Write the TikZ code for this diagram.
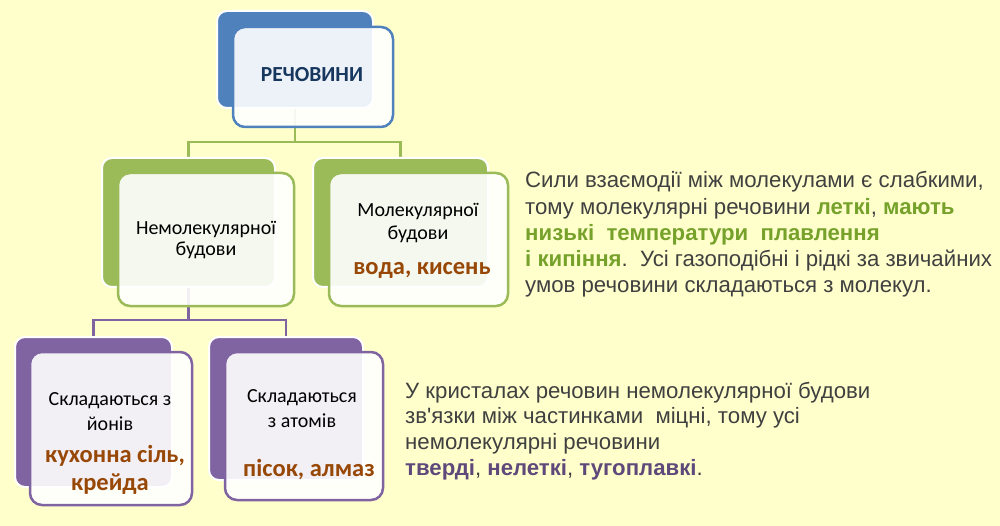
\documentclass[tikz,border=0pt]{standalone}
\usepackage{fontspec}
\setmainfont{Carlito}
\newfontfamily\arialf{Liberation Sans}
\definecolor{bgyel}{HTML}{FFFFCC}
\definecolor{cblue}{HTML}{4F81BD}
\definecolor{cgreen}{HTML}{9BBB59}
\definecolor{cpurple}{HTML}{8064A2}
\definecolor{ttitle}{HTML}{17375E}
\definecolor{tbrown}{HTML}{984806}
\definecolor{tgrey}{HTML}{404040}
\definecolor{tgreen}{HTML}{76A12B}
\definecolor{tpurple}{HTML}{5F497A}
\pgfdeclarelayer{bg}
\pgfdeclarelayer{conn}
\pgfsetlayers{bg,conn,main}
\tikzset{
  backbox/.style={draw=white,line width=2pt,rounded corners=10pt,inner sep=0pt,outer sep=0pt},
  frontbox/.style={draw=#1,line width=2.5pt,rounded corners=12pt,fill=white,fill opacity=0.9,inner sep=0pt,outer sep=0pt},
  conn/.style={draw=#1,line width=2.5pt},
  boxtxt/.style={anchor=base,font=\fontsize{20}{24}\selectfont,text=black,inner sep=0pt},
  boxbold/.style={anchor=base,font=\fontsize{24.5}{28}\selectfont\bfseries,text=tbrown,inner sep=0pt},
  sidetxt/.style={anchor=base west,font=\arialf\fontsize{22.2}{26}\selectfont,text=tgrey,inner sep=0pt},
}
\begin{document}
\begin{tikzpicture}[x=1pt,y=-1pt]
\begin{pgfonlayer}{bg}
\fill[bgyel] (0,0) rectangle (1000,526);
\end{pgfonlayer}
\useasboundingbox (0,0) rectangle (1000,526);
% boxes
\node[backbox,fill=cblue,minimum width=156pt,minimum height=97pt] (topback) at (295,59.5) {};
\node[frontbox=cblue,minimum width=160pt,minimum height=100pt] (topfront) at (313,77) {};
\node[backbox,fill=cgreen,minimum width=173pt,minimum height=129pt] (g1back) at (188.5,222.5) {};
\node[frontbox=cgreen,minimum width=176pt,minimum height=133pt] (g1front) at (206,239.5) {};
\node[backbox,fill=cgreen,minimum width=175pt,minimum height=129pt] (g2back) at (400.5,222.5) {};
\node[frontbox=cgreen,minimum width=179pt,minimum height=133pt] (g2front) at (418.5,239.5) {};
\node[backbox,fill=cpurple,minimum width=157pt,minimum height=150pt] (p1back) at (93.5,412) {};
\node[frontbox=cpurple,minimum width=162pt,minimum height=153pt] (p1front) at (111,428.5) {};
\node[backbox,fill=cpurple,minimum width=154pt,minimum height=143pt] (p2back) at (286,408.5) {};
\node[frontbox=cpurple,minimum width=158pt,minimum height=148pt] (p2front) at (304,426) {};
% connectors
\coordinate (busg) at (0,142);
\coordinate (busp) at (0,320);
\begin{pgfonlayer}{conn}
\draw[conn=cgreen] (topback.center) -- (topback.center |- busg) -| (g1back.center);
\draw[conn=cgreen] (topback.center |- busg) -| (g2back.center);
\draw[conn=cpurple] (g1back.center) -- (g1back.center |- busp) -| (p1back.center);
\draw[conn=cpurple] (g1back.center |- busp) -| (p2back.center);
\end{pgfonlayer}
% box texts
\node[anchor=base,font=\fontsize{21.5}{24}\selectfont\bfseries,text=ttitle,inner sep=0pt] (ttop) at (312,82) {РЕЧОВИНИ};
\node[boxtxt] (g1a) at (206,235) {Немолекулярної};
\node[boxtxt] (g1b) at (206,256) {будови};
\node[boxtxt] (g2a) at (418,217) {Молекулярної};
\node[boxtxt] (g2b) at (418,240) {будови};
\node[boxbold] (g2c) at (422,275) {вода, кисень};
\node[boxtxt] (p1a) at (110,405) {Складаються з};
\node[boxtxt] (p1b) at (110,430) {йонів};
\node[boxbold] (p1c) at (115,462) {кухонна сіль,};
\node[boxbold] (p1d) at (110,490) {крейда};
\node[boxtxt] (p2a) at (302,402) {Складаються};
\node[boxtxt] (p2b) at (302,427) {з атомів};
\node[boxbold] (p2c) at (309,476) {пісок, алмаз};
% side texts
\node[sidetxt] (s1) at (525,188) {Сили взаємодії між молекулами є слабкими,};
\node[sidetxt] (s2) at (525,214.5) {тому молекулярні речовини \textcolor{tgreen}{\textbf{леткі}}, \textcolor{tgreen}{\textbf{мають}}};
\node[sidetxt] (s3) at (525,240.5) {\textcolor{tgreen}{\textbf{низькі\ \ температури\ \ плавлення}}};
\node[sidetxt] (s4) at (525,267) {\textcolor{tgreen}{\textbf{і кипіння}}.\ \ Усі газоподібні і рідкі за звичайних};
\node[sidetxt] (s5) at (525,293) {умов речовини складаються з молекул.};
\node[sidetxt] (r1) at (405,398) {У кристалах речовин немолекулярної будови};
\node[sidetxt] (r2) at (405,423.5) {зв'язки між частинками\ \ міцні, тому усі};
\node[sidetxt] (r3) at (405,449.5) {немолекулярні речовини};
\node[sidetxt] (r4) at (405,475) {\textcolor{tpurple}{\textbf{тверді}}, \textcolor{tpurple}{\textbf{нелеткі}}, \textcolor{tpurple}{\textbf{тугоплавкі}}.};
\end{tikzpicture}
\end{document}
